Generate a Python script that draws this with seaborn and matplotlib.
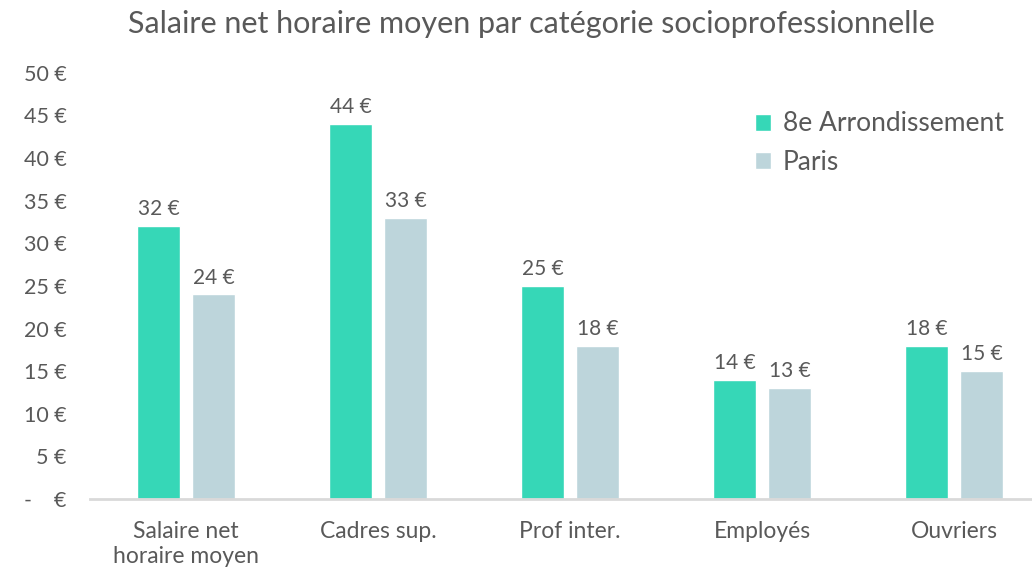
import pandas as pd
import matplotlib
matplotlib.use("Agg")
import matplotlib.pyplot as plt
import seaborn as sns

## Values (euros per hour)
categories = ["Salaire net\nhoraire moyen", "Cadres sup.", "Prof inter.", "Employés", "Ouvriers"]
arrondissement_8e = [32, 44, 25, 14, 18]
paris = [24, 33, 18, 13, 15]
series_names = ["8e Arrondissement", "Paris"]
y_ticks = [0, 5, 10, 15, 20, 25, 30, 35, 40, 45, 50]

df = pd.DataFrame({
    "categorie": categories * 2,
    "salaire": arrondissement_8e + paris,
    "zone": [series_names[0]] * len(categories) + [series_names[1]] * len(categories),
})

sns.set_style("white")
plt.rcParams["font.family"] = ["Lato", "DejaVu Sans"]
text_color = "#595959"

fig = plt.figure(figsize=(10.32, 5.69), dpi=100)
ax = fig.add_axes([0.0872, 0.123, 0.9128, 0.749])

sns.barplot(data=df, x="categorie", y="salaire", hue="zone",
            palette=["#36D7B7", "#BDD5DB"], width=0.573, gap=0.218,
            saturation=1, ax=ax)

# value labels above each bar
for container in ax.containers:
    ax.bar_label(container, labels=[f"{v:.0f} €" for v in container.datavalues],
                 padding=5, fontsize=15, color=text_color)

ax.set_ylim(0, 50)
ax.set_xlim(-0.5, 4.406)
ax.set_yticks(y_ticks)
ax.set_yticklabels([f"{t} €" if t else "-    €" for t in y_ticks])
ax.set_xlabel("")
ax.set_ylabel("")
ax.tick_params(axis="y", length=0, pad=17, labelsize=15.5, labelcolor=text_color)
ax.tick_params(axis="x", length=0, pad=16, labelsize=16.5, labelcolor=text_color)
for label in ax.get_xticklabels():
    label.set_linespacing(1.25)

sns.despine(ax=ax, left=True)
ax.spines["bottom"].set_color("#D9D9D9")
ax.spines["bottom"].set_linewidth(2)

leg = ax.legend(loc="upper right", bbox_to_anchor=(0.995, 0.965), frameon=False,
                fontsize=19, handlelength=0.6, handleheight=0.6,
                handletextpad=0.45, labelspacing=0.5)
for t in leg.get_texts():
    t.set_color(text_color)

fig.suptitle("Salaire net horaire moyen par catégorie socioprofessionnelle",
             x=0.515, y=0.982, fontsize=22, color=text_color)

fig.savefig("out.png", dpi=100)
